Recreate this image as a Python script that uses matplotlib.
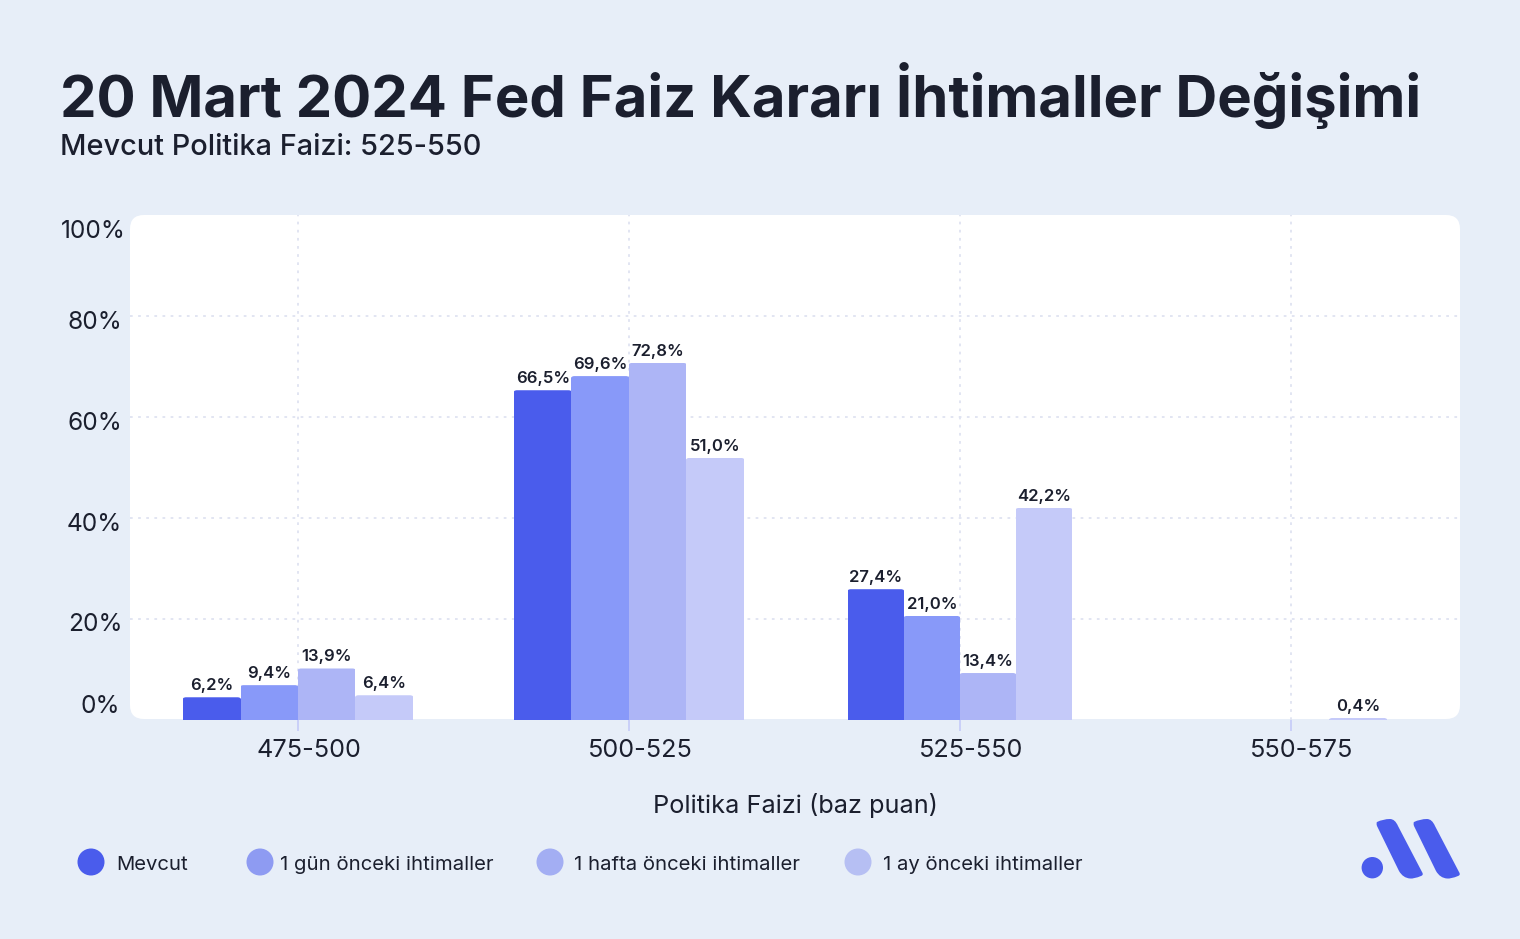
import matplotlib
matplotlib.use('Agg')
import numpy as np
import matplotlib.pyplot as plt
from matplotlib.patches import FancyBboxPatch, PathPatch, Circle
from matplotlib.path import Path
from matplotlib.transforms import ScaledTranslation

plt.rcParams['font.family'] = ['Inter', 'DejaVu Sans']

categories = ['475-500', '500-525', '525-550', '550-575']
series_names = ['Mevcut', '1 gün önceki ihtimaller', '1 hafta önceki ihtimaller', '1 ay önceki ihtimaller']
# bar heights as drawn in the picture (they do not quite follow the printed labels)
mevcut = [4.5, 65.3, 25.9, 0]
gun_once = [6.9, 68.1, 20.6, 0]
hafta_once = [10.2, 70.7, 9.3, 0]
ay_once = [4.9, 51.9, 42.0, 0.4]
# printed labels
mevcut_labels = ['6,2%', '66,5%', '27,4%', '']
gun_labels = ['9,4%', '69,6%', '21,0%', '']
hafta_labels = ['13,9%', '72,8%', '13,4%', '']
ay_labels = ['6,4%', '51,0%', '42,2%', '0,4%']
y_ticks = [20, 40, 60, 80]
y_tick_labels = ['20%', '40%', '60%', '80%']

BG = '#E7EEF8'
DARK = '#1B1F2E'
bar_colors = ['#4A5CEC', '#8899F9', '#ADB5F6', '#C5CAF9']
legend_colors = ['#4A5CEC', '#8E9BF2', '#A3AEF3', '#B6BFF3']
legend_x = [91, 260, 550, 858]
legend_text_x = [116.5, 280, 574, 883]
ytick_shift_y = [-3, -4, -4, -4]
# bars of each group sit a little differently around their tick
group_shift = [0, 0, 0, -0.0574]
group_scale = [1, 1, 0.975, 1]

W, H = 1520, 939
fig = plt.figure(figsize=(W / 100, H / 100), dpi=100, facecolor=BG)

# background layer in pixel coordinates: panel, header, legend, logo
bg = fig.add_axes([0, 0, 1, 1], zorder=0)
bg.set_xlim(0, W)
bg.set_ylim(H, 0)
bg.axis('off')
bg.add_patch(FancyBboxPatch((130, 215), 1330, 504, boxstyle='round,pad=0,rounding_size=14',
                            fc='white', ec='none'))

bg.text(60, 117, '20 Mart 2024 Fed Faiz Kararı İhtimaller Değişimi', fontsize=41.8,
        fontweight='bold', color=DARK, va='baseline', ha='left')
bg.text(60, 155, 'Mevcut Politika Faizi: 525-550', fontsize=20.8, fontweight='medium',
        color=DARK, va='baseline', ha='left')

for name, col, cx, tx in zip(series_names, legend_colors, legend_x, legend_text_x):
    bg.add_patch(Circle((cx, 862), 13.5, fc=col, ec='none'))
    bg.text(tx, 865, name, fontsize=14.6, color=DARK, va='center', ha='left')

# logo
bg.add_patch(Circle((1372.3, 867.7), 10.7, fc='#4A5CEC', ec='none'))
for dx in [0, 37]:
    verts = [(1377 + dx, 822), (1383 + dx, 819), (1390 + dx, 819), (1395 + dx, 819), (1398 + dx, 826),
             (1422 + dx, 872), (1424 + dx, 875), (1421 + dx, 876), (1414 + dx, 879), (1410 + dx, 878.5),
             (1403 + dx, 878), (1399 + dx, 871), (1377 + dx, 826), (1376 + dx, 823), (1377 + dx, 822)]
    codes = [Path.MOVETO, Path.CURVE3, Path.CURVE3, Path.CURVE3, Path.CURVE3,
             Path.LINETO, Path.CURVE3, Path.CURVE3, Path.CURVE3, Path.CURVE3,
             Path.CURVE3, Path.CURVE3, Path.LINETO, Path.CURVE3, Path.CURVE3]
    bg.add_patch(PathPatch(Path(verts, codes), fc='#4A5CEC', ec='none'))

# chart layer
ax = fig.add_axes([130 / W, (H - 720) / H, 1330 / W, 505 / H], zorder=1)
ax.patch.set_alpha(0)
ax.set_xlim(-0.5076, 3.511)
ax.set_ylim(0, 100)
for s in ax.spines.values():
    s.set_visible(False)
ax.set_axisbelow(True)
ax.grid(True, color='#DFE3F1', linestyle=(0, (1.5, 3)), linewidth=1.3)

width = 0.1737
all_values = [mevcut, gun_once, hafta_once, ay_once]
all_labels = [mevcut_labels, gun_labels, hafta_labels, ay_labels]
xpos = np.arange(len(categories))
for i, (vals, labels) in enumerate(zip(all_values, all_labels)):
    offs = [(i - 2) * width * sc + sh for sc, sh in zip(group_scale, group_shift)]
    widths = [width * sc for sc in group_scale]
    bars = ax.bar(xpos + np.array(offs), vals, widths, align='edge', color=bar_colors[i], zorder=2)
    for b, lab in zip(bars, labels):
        if lab == '':
            continue
        # round the top corners by clipping to a rounded box that runs below the axis,
        # slightly wider than the bar so no seam shows between neighbours
        round_box = FancyBboxPatch((b.get_x() - 0.003, -5), b.get_width() + 0.006, b.get_height() + 5,
                                   boxstyle='round,pad=0,rounding_size=0.012',
                                   mutation_aspect=65, transform=ax.transData)
        b.set_clip_path(round_box)
        ax.annotate(lab, (b.get_x() + b.get_width() / 2, b.get_height()), xytext=(0, 3),
                    textcoords='offset points', ha='center', va='bottom', fontsize=12,
                    fontweight='semibold', color=DARK, zorder=3)

ax.set_xticks(xpos)
ax.set_xticklabels(categories, fontsize=18.2, color=DARK)
ax.tick_params(axis='x', length=8, width=1.2, color='#C5CBF8', pad=5.5)
for lab in ax.get_xticklabels():
    lab.set_transform(lab.get_transform() + ScaledTranslation(11 / 100, 0, fig.dpi_scale_trans))

ax.set_yticks(y_ticks)
ax.set_yticklabels(y_tick_labels, fontsize=17.6, color=DARK)
ax.tick_params(axis='y', length=0, pad=5.5)
for lab, sy in zip(ax.get_yticklabels(), ytick_shift_y):
    lab.set_transform(lab.get_transform() + ScaledTranslation(0, sy / 100, fig.dpi_scale_trans))

# the two end labels sit inside the range rather than on their grid positions
ax.text(-0.003, 0.967, '100%', transform=ax.transAxes, ha='right', va='center', fontsize=17.6, color=DARK)
ax.text(-0.0075, 0.026, '0%', transform=ax.transAxes, ha='right', va='center', fontsize=17.6, color=DARK)

ax.set_xlabel('Politika Faizi (baz puan)', fontsize=18.2, color=DARK)
ax.xaxis.set_label_coords((795 - 130) / 1330, (720 - 806) / 505)
ax.xaxis.label.set_va('center')

fig.savefig('out.png', dpi=100, facecolor=BG)
